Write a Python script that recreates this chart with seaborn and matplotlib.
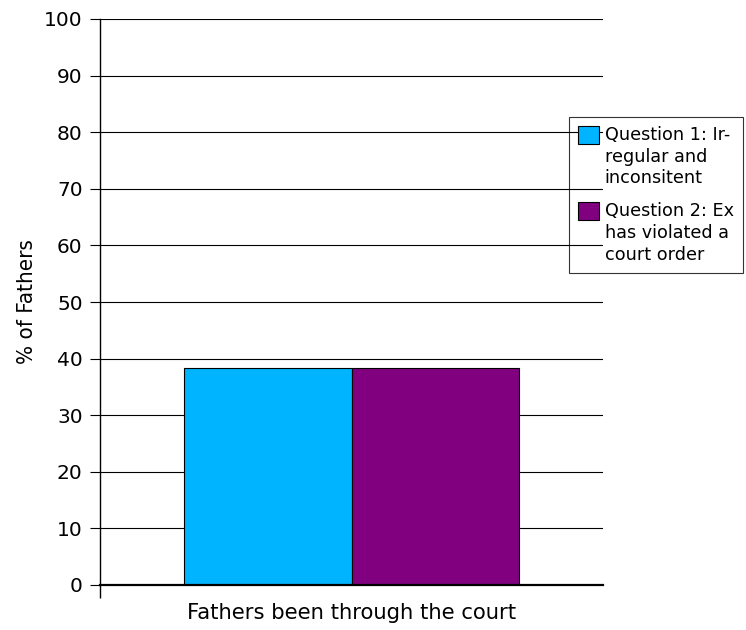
import matplotlib
matplotlib.use("Agg")
import matplotlib.pyplot as plt
import seaborn as sns
import pandas as pd
from matplotlib.patches import Patch
from matplotlib.ticker import FixedLocator

# Survey data
categories = ["Fathers been through the court"]
questions = ["Question 1: Ir-\nregular and\ninconsitent",
             "Question 2: Ex\nhas violated a\ncourt order"]
values_q1 = [38.3]
values_q2 = [38.3]
colors = ["#00B4FF", "#800080"]
y_ticks = list(range(0, 101, 10))

df = pd.DataFrame({
    "group": categories * 2,
    "question": [questions[0]] * len(categories) + [questions[1]] * len(categories),
    "pct": values_q1 + values_q2,
})

sns.set_style("white")
plt.rcParams["font.family"] = ["DejaVu Sans"]
plt.rcParams["text.color"] = "black"
plt.rcParams["axes.labelcolor"] = "black"
plt.rcParams["xtick.color"] = "black"
plt.rcParams["ytick.color"] = "black"

fig = plt.figure(figsize=(7.46, 6.30), dpi=100)
ax = fig.add_axes([100 / 746, 1 - 585 / 630, 503 / 746, 566 / 630])

sns.barplot(data=df, x="group", y="pct", hue="question", palette=colors,
            saturation=1, width=0.666, edgecolor="black", linewidth=0.8,
            ax=ax, legend=False, errorbar=None)

ax.set_ylim(0, 100)
ax.set_xlim(-0.5, 0.5)
ax.set_yticks(y_ticks)
ax.yaxis.grid(True, color="black", linewidth=0.8)
ax.set_axisbelow(True)

for side in ("top", "right"):
    ax.spines[side].set_visible(False)
ax.spines["left"].set_color("black")
ax.spines["left"].set_linewidth(1.0)
ax.spines["bottom"].set_color("black")
ax.spines["bottom"].set_linewidth(1.6)

ax.tick_params(axis="y", which="major", direction="out", length=7.5, width=0.8,
               color="black", labelsize=14.5, pad=5, left=True)
ax.tick_params(axis="x", which="major", length=0, labelsize=15.2, pad=13)
ax.xaxis.set_minor_locator(FixedLocator([-0.5]))
ax.tick_params(axis="x", which="minor", direction="out", length=9, width=1.0,
               color="black", bottom=True)

ax.set_xlabel("")
ax.set_ylabel("% of Fathers", fontsize=16, fontstretch="condensed", labelpad=5)

handles = [Patch(facecolor=c, edgecolor="black", linewidth=0.8) for c in colors]
leg = ax.legend(handles, questions, loc="upper left",
                bbox_to_anchor=(569 / 746, 1 - 117 / 630),
                bbox_transform=fig.transFigure, borderaxespad=0,
                fontsize=12.7, frameon=True, fancybox=False,
                handlelength=1.19, handleheight=1.19, handletextpad=0.34,
                borderpad=0.5, labelspacing=0.85, alignment="left")
leg.get_frame().set_edgecolor("black")
leg.get_frame().set_facecolor("none")
leg.get_frame().set_linewidth(0.8)
for t in leg.get_texts():
    t.set_linespacing(1.27)
# square swatches sit level with the first line of each label
for column in leg._legend_handle_box.get_children():
    for row in column.get_children():
        row.align = "top"

fig.savefig("out.png", dpi=100)
